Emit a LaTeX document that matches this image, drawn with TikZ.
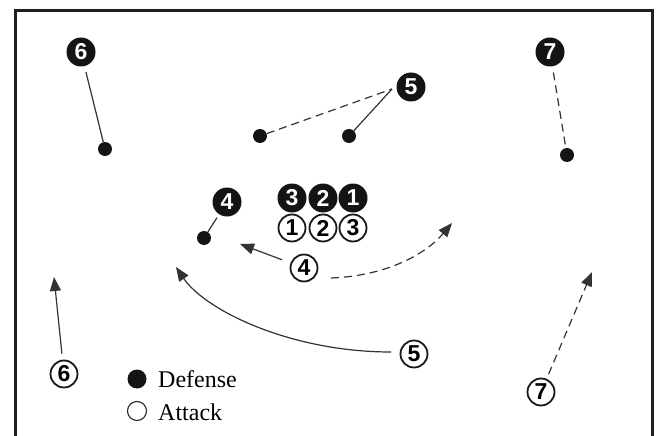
\documentclass[tikz,border=0pt]{standalone}
\usepackage{fontspec}
\setmainfont{Liberation Serif}
\newfontfamily\numfont{Liberation Sans}
\usetikzlibrary{arrows.meta}

\begin{document}
\begin{tikzpicture}[x=1pt,y=-1pt,
  defn/.style={circle,fill=black!92,text=white,minimum size=29pt,inner sep=0pt,
    font=\numfont\bfseries\fontsize{23}{23}\selectfont},
  atk/.style={circle,draw=black!90,line width=1.8pt,fill=white,minimum size=27pt,inner sep=0pt,
    font=\numfont\bfseries\fontsize{23}{23}\selectfont},
  spot/.style={circle,fill=black!92,minimum size=14pt,inner sep=0pt},
  run/.style={line width=1.2pt,draw=black!80},
  dsh/.style={run,dash pattern=on 8pt off 5pt},
  tip/.style={-{Triangle[length=14pt,width=11pt]}},
  keytext/.style={anchor=base west,inner sep=0pt,font=\fontsize{24}{24}\selectfont},
]
\useasboundingbox (0,0) rectangle (657,436);
\fill[white] (0,0) rectangle (657,436);

% field border (open at the bottom)
\draw[line width=3pt,black!88] (15.5,440) -- (15.5,11) -- (652,11) -- (652,440);

% defence players
\node[defn] (d6) at (81,52) {6};
\node[defn] (d5) at (411,87) {5};
\node[defn] (d7) at (550,52) {7};
\node[defn] (d4) at (227,202) {4};
\node[defn] (d3) at (292,198) {3};
\node[defn] (d2) at (323,198) {2};
\node[defn] (d1) at (353,198) {1};

% defensive positions
\node[spot] (p6) at (105,149) {};
\node[spot] (p5a) at (260,136) {};
\node[spot] (p5b) at (349,136) {};
\node[spot] (p7) at (567,155) {};
\node[spot] (p4) at (204,238) {};
\coordinate (c5) at (392,89);

% attackers
\node[atk] (a1) at (292,228) {1};
\node[atk] (a2) at (323,228) {2};
\node[atk] (a3) at (353,228) {3};
\node[atk] (a4) at (304,268) {4};
\node[atk] (a5) at (414,354) {5};
\node[atk] (a6) at (64,374) {6};
\node[atk] (a7) at (541,392) {7};

% run targets
\coordinate (t4a) at (240,244);
\coordinate (t4b) at (452,223);
\coordinate (t5) at (176,267);
\coordinate (t6) at (54,277);
\coordinate (t7) at (592,272);

% defensive shifts
\draw[run,shorten <=6pt] (d6) -- (p6);
\draw[dsh] (p5a) -- (c5);
\draw[run] (p5b) -- (c5);
\draw[dsh,shorten <=6pt] (d7) -- (p7);
\draw[run,shorten >=4pt] (p4) -- (d4);

% attacking runs (y axis points down, so negative shifts go down the page)
\draw[run,tip,shorten <=9pt] (a4) -- (t4a);
\draw[dsh,tip] ([xshift=27pt,yshift=-10pt]a4.center) .. controls (385,276) and (425,255) .. (t4b);
\draw[run,tip] ([xshift=-23pt,yshift=2pt]a5.center) .. controls (290,352) and (205,310) .. (t5);
\draw[run,tip,shorten <=6pt] (a6) -- (t6);
\draw[dsh,tip,shorten <=5pt] (a7) -- (t7);

% key
\node[spot,minimum size=19pt] (kd) at (137,379) {};
\node[keytext] (kdt) at (158,387) {Defense};
\node[circle,draw=black!85,line width=1.1pt,minimum size=19pt,inner sep=0pt] (ka) at (137,411) {};
\node[keytext] (kat) at (158,420) {Attack};
\end{tikzpicture}
\end{document}
